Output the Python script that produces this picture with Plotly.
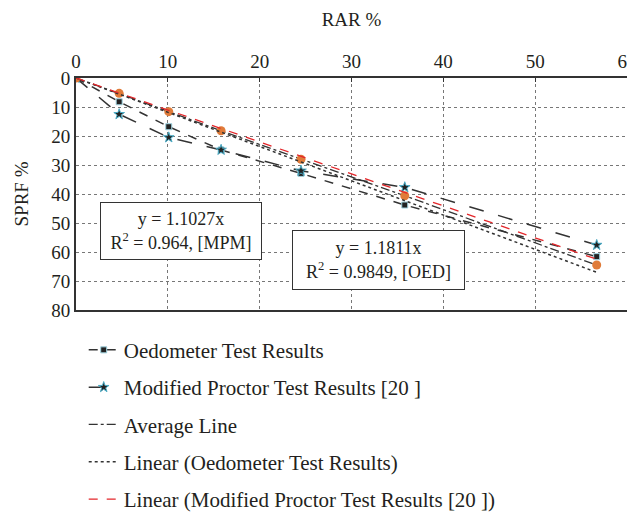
import plotly.graph_objects as go

# Data
rar = [0, 4.7, 10.1, 15.8, 24.5, 35.8, 56.7]
oed = [0, 8.2, 16.8, 24.8, 32.9, 43.8, 61.6]
mpm = [0, 12.5, 20.5, 24.8, 32.0, 37.7, 57.6]
avg = [0, 5.3, 11.6, 18.2, 28.0, 40.6, 64.5]
fit_x = [0, 56.7]
fit_oed = [0, 67.0]
fit_mpm = [0, 62.5]
x_ticks = [0, 10, 20, 30, 40, 50, 60]
y_ticks = [0, 10, 20, 30, 40, 50, 60, 70, 80]

FONT = "Liberation Serif"
DARK = "#333333"
TXT = "#231f20"

fig = go.Figure()
fig.add_trace(go.Scatter(
    x=rar, y=oed, mode="lines+markers", name="Oedometer Test Results",
    legendgroup="a",
    line=dict(color=DARK, width=1.5, dash="dash"),
    marker=dict(symbol="square", size=6, color="#222222",
                line=dict(color="#9fd3e0", width=1))))
fig.add_trace(go.Scatter(
    x=rar, y=mpm, mode="lines+markers", name="Modified Proctor Test Results [20 ]",
    legendgroup="b",
    line=dict(color=DARK, width=1.5, dash="longdash"),
    marker=dict(symbol="star", size=8, color="#222222",
                line=dict(color="#4bacc6", width=1))))
fig.add_trace(go.Scatter(
    x=rar, y=avg, mode="lines", name="Average Line",
    legendgroup="c",
    line=dict(color=DARK, width=1.3, dash="dashdot")))
fig.add_trace(go.Scatter(
    x=rar, y=avg, mode="markers", showlegend=False, legendgroup="c",
    marker=dict(symbol="circle", size=9, color="#e07b39")))
fig.add_trace(go.Scatter(
    x=fit_x, y=fit_oed, mode="lines", name="Linear (Oedometer Test Results)",
    legendgroup="d",
    line=dict(color=DARK, width=1.5, dash="dot")))
fig.add_trace(go.Scatter(
    x=fit_x, y=fit_mpm, mode="lines", name="Linear (Modified Proctor Test Results [20 ])",
    legendgroup="e",
    line=dict(color="#e3262a", width=1.3, dash="dash")))

fig.add_annotation(x=11.4, y=52.8, xref="x", yref="y",
                   text="y = 1.1027x<br>R<sup>2</sup> = 0.964, [MPM]",
                   showarrow=False, bgcolor="white", bordercolor=DARK, borderwidth=1,
                   width=156, height=52, borderpad=2,
                   font=dict(family=FONT, size=18, color=TXT))
fig.add_annotation(x=32.9, y=62.8, xref="x", yref="y",
                   text="y = 1.1811x<br>R<sup>2</sup> = 0.9849, [OED]",
                   showarrow=False, bgcolor="white", bordercolor=DARK, borderwidth=1,
                   width=167, height=54, borderpad=2,
                   font=dict(family=FONT, size=18, color=TXT))

fig.update_layout(
    width=627, height=507,
    margin=dict(l=68, r=8, t=70, b=205, autoexpand=False),
    paper_bgcolor="white", plot_bgcolor="white",
    font=dict(family=FONT, size=18, color=TXT),
    showlegend=True,
    legend=dict(x=0.014, y=-0.085, xanchor="left", yanchor="top",
                orientation="v", tracegroupgap=7,
                font=dict(family=FONT, size=21, color=TXT),
                bgcolor="rgba(0,0,0,0)"),
    xaxis=dict(side="top", range=[0, 60], tickvals=x_ticks, automargin=False,
               ticklabeloverflow="allow",
               title=dict(text="RAR %", standoff=20, font=dict(size=19)),
               showline=True, linecolor=DARK, linewidth=2, mirror=True,
               showgrid=True, gridcolor="#777777", griddash="dot", gridwidth=1,
               ticks="inside", ticklen=4, tickcolor=DARK, zeroline=False,
               tickfont=dict(size=19)),
    yaxis=dict(range=[80, 0], tickvals=y_ticks, automargin=False,
               title=dict(text="SPRF %", standoff=18, font=dict(size=19)),
               showline=True, linecolor=DARK, linewidth=2, mirror=True,
               showgrid=True, gridcolor="#777777", griddash="dot", gridwidth=1,
               ticks="", zeroline=False, tickfont=dict(size=19)),
)

fig.write_html("out.html")
